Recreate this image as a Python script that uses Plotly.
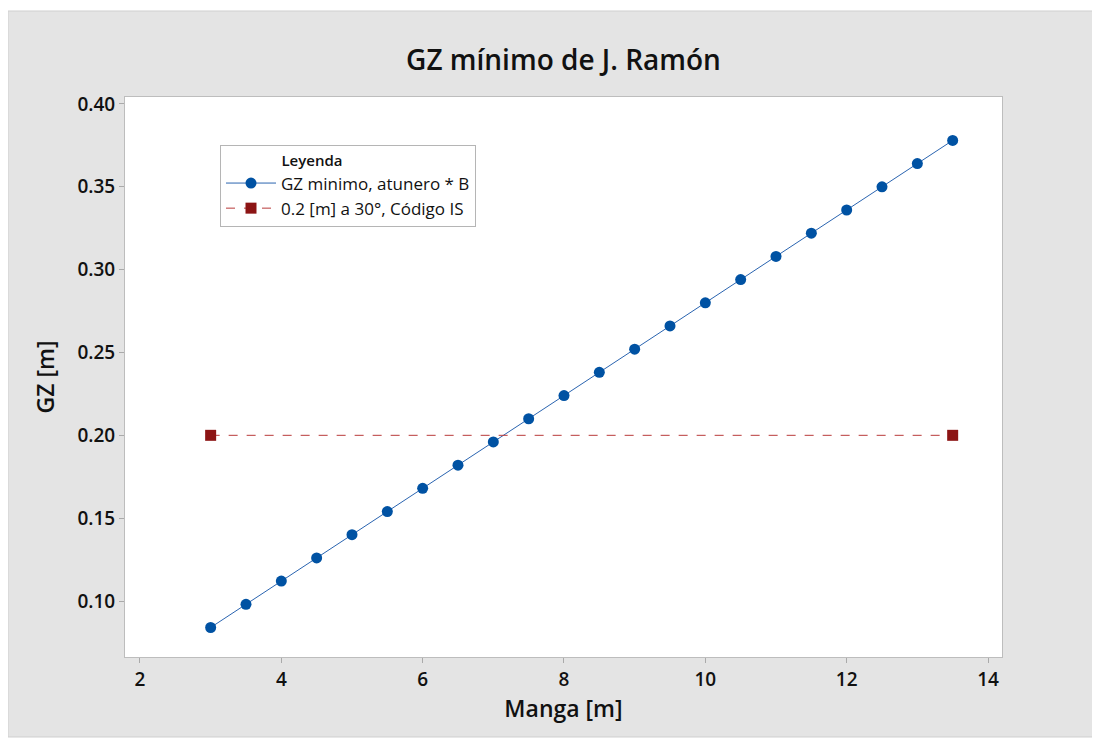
import plotly.graph_objects as go

# Datos
manga = [3, 3.5, 4, 4.5, 5, 5.5, 6, 6.5, 7, 7.5, 8, 8.5, 9, 9.5, 10, 10.5, 11, 11.5, 12, 12.5, 13, 13.5]
gz_minimo = [0.084, 0.098, 0.112, 0.126, 0.140, 0.154, 0.168, 0.182, 0.196, 0.210, 0.224,
             0.238, 0.252, 0.266, 0.280, 0.294, 0.308, 0.322, 0.336, 0.350, 0.364, 0.378]
manga_is = [3, 13.5]
gz_is = [0.2, 0.2]

x_ticks = [2, 4, 6, 8, 10, 12, 14]
y_ticks = [0.10, 0.15, 0.20, 0.25, 0.30, 0.35, 0.40]

fuente = "Open Sans"

fig = go.Figure()

fig.add_trace(go.Scatter(x=manga, y=gz_minimo, mode='lines+markers', name='GZ minimo, atunero * B',
                         line=dict(color='#2a64b0', width=1),
                         marker=dict(color='#0052a3', size=11, symbol='circle')))
fig.add_trace(go.Scatter(x=manga_is, y=gz_is, mode='lines+markers', name='0.2 [m] a 30°, Código IS',
                         line=dict(color='#b83a3a', width=1, dash='dash'),
                         marker=dict(color='#8c1414', size=11, symbol='square')))

# la pagina tiene 8px de margen, asi que todo va corrido
ANCHO, ALTO = 1092, 732
L, R, T, B = 117, 994, 89, 649
W, H = R - L, B - T
fig.add_shape(type='rect', xref='paper', yref='paper', layer='below',
              x0=(0 - L) / W, x1=(1090 - L) / W, y0=(B - 729) / H, y1=(B - 3) / H,
              fillcolor='#e4e4e4', line=dict(color='#cfcfcf', width=1))
fig.add_shape(type='rect', xref='paper', yref='paper', layer='below',
              x0=0, x1=1, y0=0, y1=1, fillcolor='white', line=dict(width=0))

fig.update_layout(
    width=ANCHO, height=ALTO,
    margin=dict(l=L, r=ANCHO - R, t=T, b=ALTO - B),
    paper_bgcolor='white', plot_bgcolor='rgba(0,0,0,0)',
    font=dict(family=fuente, color='#111'),
    title=dict(text='GZ mínimo de J. Ramón', x=0.5, xref='paper', xanchor='center',
               y=1 - 52 / ALTO, yanchor='middle', font=dict(size=28, color='#111', weight=600)),
    legend=dict(x=(212 - L) / W, y=(B - 137) / H, xanchor='left', yanchor='top',
                bgcolor='white', bordercolor='#b5b5b5', borderwidth=1,
                font=dict(size=17, color='#111'), itemwidth=50, tracegroupgap=0,
                title=dict(text='&nbsp;' * 15 + 'Leyenda',
                           font=dict(size=15, color='#111', weight=600))),
    showlegend=True,
)

fig.update_xaxes(range=[1.788, 14.198], tickvals=x_ticks, ticks='outside', ticklen=5, tickcolor='#aaa',
                 showgrid=False, zeroline=False, showline=True, mirror=True, linecolor='#bdbdbd', linewidth=1,
                 tickfont=dict(size=19, weight=600),
                 title=dict(text='Manga [m]', font=dict(size=23, weight=600), standoff=8))
fig.update_yaxes(range=[0.0662, 0.4042], tickvals=y_ticks, tickformat='.2f', ticks='outside', ticklen=5,
                 tickcolor='#aaa', showgrid=False, zeroline=False, showline=True, mirror=True,
                 linecolor='#bdbdbd', linewidth=1,
                 tickfont=dict(size=19, weight=600),
                 title=dict(text='GZ [m]', font=dict(size=23, weight=600), standoff=16))

fig.write_html("out.html")
